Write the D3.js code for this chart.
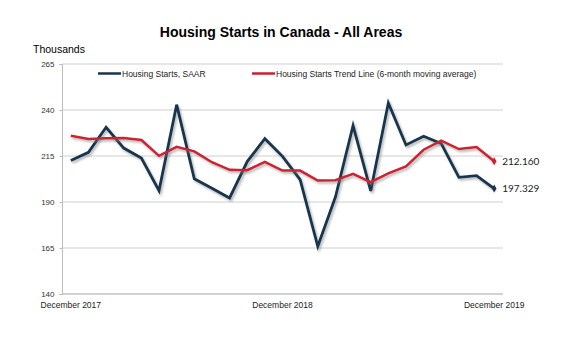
<!DOCTYPE html>
<html>
<head>
<meta charset="utf-8">
<script src="https://cdn.jsdelivr.net/npm/d3@7"></script>
<style>
  html, body { margin: 0; padding: 0; background: #fff; }
  svg { display: block; }
</style>
</head>
<body>
<svg id="chart" width="579" height="356"></svg>
<script>
// ---- data ----
const months = ["Dec 2017","Jan 2018","Feb 2018","Mar 2018","Apr 2018","May 2018","Jun 2018","Jul 2018","Aug 2018","Sep 2018","Oct 2018","Nov 2018","Dec 2018","Jan 2019","Feb 2019","Mar 2019","Apr 2019","May 2019","Jun 2019","Jul 2019","Aug 2019","Sep 2019","Oct 2019","Nov 2019","Dec 2019"];
const starts = [212.6, 217.0, 230.6, 219.3, 213.9, 196.2, 242.9, 202.6, 197.5, 192.2, 212.0, 224.4, 214.8, 202.1, 165.9, 192.7, 231.5, 196.0, 243.8, 221.0, 225.7, 221.8, 203.4, 204.3, 197.329];
const trend  = [226.0, 224.2, 224.6, 224.8, 223.7, 215.1, 220.0, 217.5, 211.6, 207.5, 207.3, 211.8, 207.1, 207.1, 201.7, 201.8, 205.3, 200.8, 205.6, 209.3, 218.4, 223.3, 218.8, 219.9, 212.160];
const yTicks = [140, 165, 190, 215, 240, 265];
const xLabelIdx = [0, 12, 24];
const xLabels = ["December 2017", "December 2018", "December 2019"];
const seriesNames = ["Housing Starts, SAAR", "Housing Starts Trend Line (6-month moving average)"];
const endLabels = ["197.329", "212.160"];
const title = "Housing Starts in Canada - All Areas";
const yTitle = "Thousands";

// ---- layout ----
const svg = d3.select("#chart");
const m = { left: 62, right: 76, top: 64, bottom: 62 };
const W = 579, H = 356;
const x = d3.scaleBand().domain(months).range([m.left, W - m.right]).paddingInner(0).paddingOuter(0);
const y = d3.scaleLinear().domain([140, 265]).range([H - m.bottom, m.top]);
const cx = d => x(d) + x.bandwidth() / 2;
const font = "'Liberation Sans', Arial, sans-serif";

const defs = svg.append("defs");
const f = defs.append("filter").attr("id", "shadow").attr("x", "-10%").attr("y", "-10%").attr("width", "120%").attr("height", "130%");
f.append("feDropShadow").attr("dx", 1.5).attr("dy", 2).attr("stdDeviation", 1.1)
  .attr("flood-color", "#7a7a7a").attr("flood-opacity", 0.55);

// title
svg.append("text").attr("x", 281).attr("y", 37).attr("text-anchor", "middle")
  .attr("font-family", font).attr("font-weight", "bold").attr("font-size", 14).attr("fill", "#000")
  .text(title);
svg.append("text").attr("x", 33).attr("y", 53)
  .attr("font-family", font).attr("font-size", 10.5).attr("fill", "#000").text(yTitle);

// gridlines
svg.append("g").selectAll("line").data(yTicks).join("line")
  .attr("x1", m.left).attr("x2", W - m.right)
  .attr("y1", d => y(d)).attr("y2", d => y(d))
  .attr("stroke", "#cfcfcf").attr("stroke-width", 1);

// y axis
const yAxis = svg.append("g").attr("transform", `translate(${m.left},0)`)
  .call(d3.axisLeft(y).tickValues(yTicks).tickSize(2.5).tickPadding(5).tickFormat(d3.format("d")));
yAxis.select(".domain").attr("stroke", "#bdbdbd");
yAxis.selectAll(".tick line").attr("stroke", "#bdbdbd");
yAxis.selectAll(".tick text").attr("font-family", font).attr("font-size", 8).attr("fill", "#333");

// x axis line
svg.append("line").attr("x1", m.left).attr("x2", W - m.right)
  .attr("y1", y(140)).attr("y2", y(140)).attr("stroke", "#bdbdbd");

// x labels
svg.append("g").selectAll("text").data(xLabelIdx).join("text")
  .attr("x", d => cx(months[d])).attr("y", y(140) + 14)
  .attr("text-anchor", "middle").attr("font-family", font).attr("font-size", 8.5).attr("fill", "#222")
  .text((d, i) => xLabels[i]);

// lines
const line = d3.line().x((d, i) => cx(months[i])).y(d => y(d));
const colors = ["#18354f", "#cc2030"];
[starts, trend].forEach((s, k) => {
  svg.append("path").datum(s).attr("d", line).attr("fill", "none")
    .attr("stroke", colors[k]).attr("stroke-width", k === 0 ? 2.8 : 2.5)
    .attr("stroke-linejoin", "miter").attr("filter", "url(#shadow)");
});
// end markers and labels
[starts, trend].forEach((s, k) => {
  const last = s.length - 1;
  const px = cx(months[last]), py = y(s[last]);
  svg.append("path").attr("d", d3.symbol(d3.symbolDiamond, 18)())
    .attr("transform", `translate(${px},${py})`).attr("fill", colors[k]);
  svg.append("text").attr("x", px + 8).attr("y", py + 3.5)
    .attr("font-family", "Lato, 'Open Sans', sans-serif").attr("font-size", 10).attr("fill", "#222")
    .text(endLabels[k]);
});

// legend
const legend = [
  { x: 98, name: seriesNames[0], c: colors[0] },
  { x: 252, name: seriesNames[1], c: colors[1] }
];
legend.forEach(l => {
  svg.append("line").attr("x1", l.x).attr("x2", l.x + 23).attr("y1", 73.5).attr("y2", 73.5)
    .attr("stroke", l.c).attr("stroke-width", 2.5);
  svg.append("text").attr("x", l.x + 24).attr("y", 76.5)
    .attr("font-family", font).attr("font-size", 8.5).attr("fill", "#222").text(l.name);
});
</script>
</body>
</html>
